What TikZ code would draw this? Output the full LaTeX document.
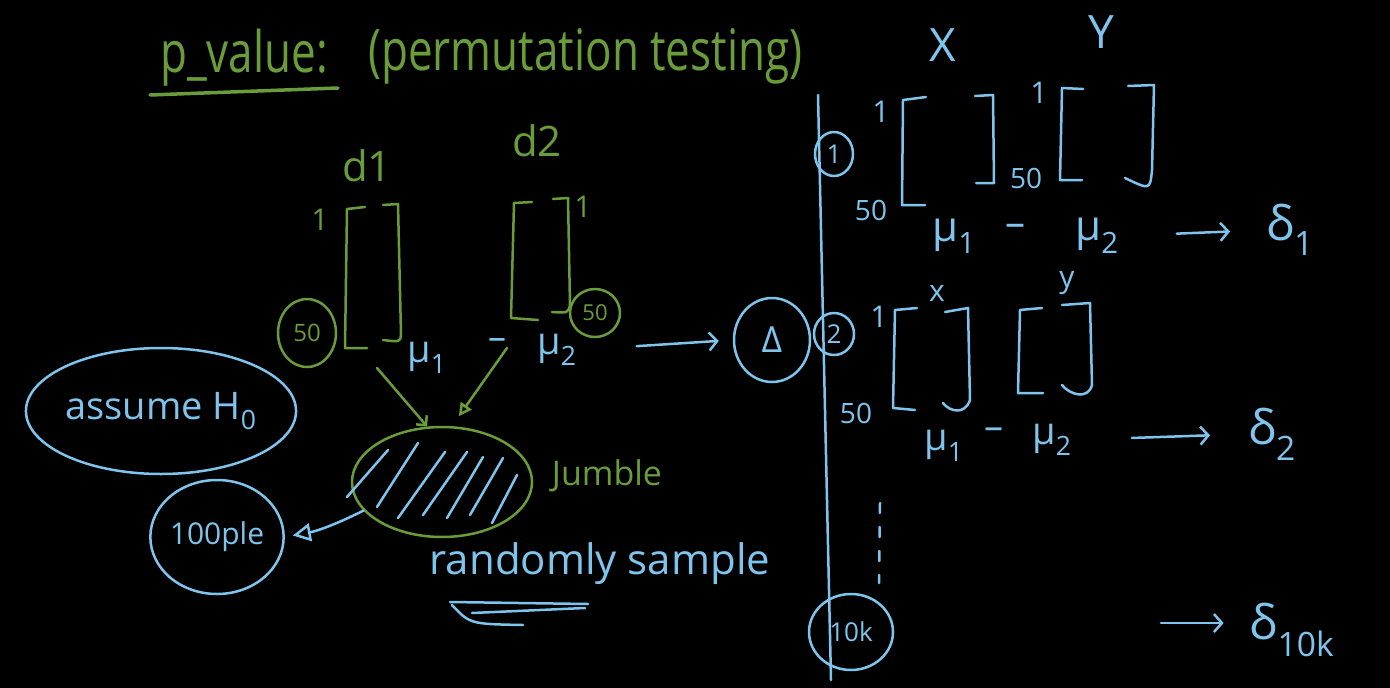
\documentclass[tikz,border=0pt]{standalone}
\usepackage{fontspec}
\setmainfont{Open Sans}
\usetikzlibrary{arrows.meta,shapes.geometric}
\definecolor{chalkgreen}{RGB}{106,156,58}
\definecolor{chalkblue}{RGB}{126,196,236}
\newcommand{\fsz}[1]{\fontsize{#1}{#1}\selectfont}
\newcommand{\tallbox}[1]{\scalebox{1}[1.3]{#1}}
\begin{document}
\begin{tikzpicture}[x=1pt,y=-1pt,
  gl/.style={draw=chalkgreen,line width=2.5pt,line cap=round,line join=round},
  bl/.style={draw=chalkblue,line width=2.5pt,line cap=round,line join=round},
  gt/.style={text=chalkgreen,inner sep=0pt},
  bt/.style={text=chalkblue,inner sep=0pt},
  gring/.style={gl,ellipse,inner sep=0pt,text=chalkgreen},
  bring/.style={bl,ellipse,inner sep=0pt,text=chalkblue},
  barb/.style={bl,-{Straight Barb[length=8pt,width=18pt,line width=2.5pt]}},
  gbarb/.style={gl,-{Straight Barb[length=7pt,width=14pt,line width=2.5pt]}},
  gopen/.style={gl,-{Triangle[open,length=13pt,width=13pt,line width=2.5pt]}},
  bopen/.style={bl,-{Triangle[open,length=18pt,width=18pt,line width=2.5pt]}}
]
\fill[black] (0,0) rectangle (1390,688);
\useasboundingbox (0,0) rectangle (1390,688);

% ---------- title ----------
\node[gt,anchor=west,font=\fsz{44}] (pval) at (160,58) {\tallbox{p\_value:}};
\node[gt,anchor=west,font=\fsz{44}] (perm) at (368,56) {\tallbox{(permutation testing)}};
\draw[gl,line width=3.5pt] (150,95) -- (338,88);

% ---------- d1 / d2 ----------
\node[gt,font=\fsz{42}] (d1) at (367,166) {d1};
\node[gt,font=\fsz{42}] (d2) at (537,141) {d2};
\node[gt,font=\fsz{30}] (d1one) at (320,220) {1};
\node[gt,font=\fsz{30}] (d2one) at (583,207) {1};
\node[gring,minimum width=58pt,minimum height=68pt,font=\fsz{24}] (d1fifty) at (307,333) {50};
\node[gring,minimum width=50pt,minimum height=48pt,font=\fsz{22}] (d2fifty) at (595,313) {50};
% brackets d1
\draw[gl] (365,207) -- (347,209) -- (345,348) -- (367,348);
\draw[gl] (383,205) -- (398,204) -- (401,335) .. controls (400,342) .. (383,340);
% brackets d2
\draw[gl] (532,202) -- (514,203) -- (511,318) -- (538,320);
\draw[gl] (553,199) -- (568,198) -- (570,305) .. controls (568,313) .. (552,312);

% ---------- mu1 - mu2 -> Delta ----------
\node[bt,font=\fsz{38}] (mu1) at (427,358) {μ\textsubscript{1}};
\node[bt,font=\fsz{36}] (minus) at (497,344) {–};
\node[bt,font=\fsz{38}] (mu2) at (557,350) {μ\textsubscript{2}};
\node[bring,minimum width=76pt,minimum height=84pt,font=\fsz{36}] (delta) at (772,340) {Δ};
\draw[barb,shorten <=60pt,shorten >=14pt] (mu2.east) -- (delta.west);

% ---------- jumble ----------
\node[gring,minimum width=180pt,minimum height=110pt] (jumble) at (442,482) {};
\coordinate (g1s) at (377,368);
\coordinate (g2s) at (507,348);
\draw[gbarb] (g1s) -- (jumble.105);
\draw[gopen,shorten >=12pt] (g2s) -- (jumble.80);
\draw[bl] (347,497) -- (388,450);
\draw[bl] (377,507) -- (418,443);
\draw[bl] (398,518) -- (445,452);
\draw[bl] (423,515) -- (467,452);
\draw[bl] (447,518) -- (483,457);
\draw[bl] (470,515) -- (503,458);
\draw[bl] (492,523) -- (517,475);
\node[gt,font=\fsz{34}] (jumbletxt) at (607,476) {Jumble};

% ---------- assume H0 / 100ple ----------
\node[bring,minimum width=232pt,minimum height=126pt,font=\fsz{38}] (assume) at (161,411) {assume H\textsubscript{0}};
\node[bring,minimum width=132pt,minimum height=114pt,font=\fsz{30}] (ple) at (217,537) {100ple};
\draw[bopen,shorten >=8pt] (jumble.200) to[bend left=8] (ple.east);

% ---------- randomly sample ----------
\node[bt,font=\fsz{42}] (rand) at (600,564) {randomly sample};
\draw[bl] (450,602) -- (588,604);
\draw[bl] (472,613) -- (585,608);
\draw[bl] (452,605) .. controls (470,624) .. (523,625);

% ---------- right side ----------
\draw[bl] (818,95) -- (831,680);
\node[bring,minimum width=38pt,minimum height=44pt,font=\fsz{26}] (n1) at (834,154) {1};
\node[bring,minimum width=40pt,minimum height=42pt,font=\fsz{26}] (n2) at (834,334) {2};
\node[bring,minimum width=84pt,minimum height=76pt,font=\fsz{26}] (n10k) at (851,632) {10k};

\node[bt,font=\fsz{46}] (X) at (943,45) {X};
\node[bt,font=\fsz{46}] (Y) at (1101,32) {Y};

% sample 1
\node[bt,font=\fsz{30}] (s1a) at (881,112) {1};
\node[bt,font=\fsz{28}] (s1b) at (871,210) {50};
\node[bt,font=\fsz{28}] (s1c) at (1026,178) {50};
\node[bt,font=\fsz{30}] (s1d) at (1039,93) {1};
\draw[bl] (926,97) -- (903,100) -- (902,205) -- (925,205);
\draw[bl] (975,96) -- (993,95) -- (994,183) -- (976,183);
\draw[bl] (1083,89) -- (1062,88) -- (1060,180) -- (1082,180);
\draw[bl] (1128,86) -- (1154,85) -- (1152,170) .. controls (1150,190) .. (1125,178);
\node[bt,font=\fsz{42}] (mu1r) at (954,236) {μ\textsubscript{1}};
\node[bt,font=\fsz{40}] (minusr) at (1015,230) {–};
\node[bt,font=\fsz{42}] (mu2r) at (1097,236) {μ\textsubscript{2}};
\node[bt,font=\fsz{48}] (dl1) at (1290,230) {δ\textsubscript{1}};
\draw[barb,shorten <=58pt,shorten >=36pt] (mu2r.east) -- (dl1.west);

% sample 2
\node[bt,font=\fsz{30}] (s2a) at (879,317) {1};
\node[bt,font=\fsz{30}] (s2x) at (937,293) {x};
\node[bt,font=\fsz{30}] (s2y) at (1067,283) {y};
\node[bt,font=\fsz{28}] (s2b) at (856,413) {50};
\draw[bl] (917,308) -- (895,310) -- (893,408) -- (915,410);
\draw[bl] (945,312) -- (968,308) -- (970,400) .. controls (965,415) and (950,412) .. (943,403);
\draw[bl] (1042,308) -- (1020,310) -- (1018,393) -- (1043,393);
\draw[bl] (1062,305) -- (1090,303) -- (1092,385) .. controls (1088,400) and (1070,395) .. (1062,385);
\node[bt,font=\fsz{38}] (mu1s) at (944,446) {μ\textsubscript{1}};
\node[bt,font=\fsz{38}] (minuss) at (994,434) {–};
\node[bt,font=\fsz{38}] (mu2s) at (1052,440) {μ\textsubscript{2}};
\node[bt,font=\fsz{48}] (dl2) at (1272,434) {δ\textsubscript{2}};
\draw[barb,shorten <=60pt,shorten >=38pt] (mu2s.east) -- (dl2.west);

% dots and 10k
\draw[bl,dash pattern=on 10pt off 14pt] (880,503) -- (879,583);
\node[bt,font=\fsz{48}] (dl10k) at (1292,630) {δ\textsubscript{10k}};
\coordinate (a10s) at (1161,623);
\draw[barb,shorten >=26pt] (a10s) -- (dl10k.west |- a10s);
\end{tikzpicture}
\end{document}
